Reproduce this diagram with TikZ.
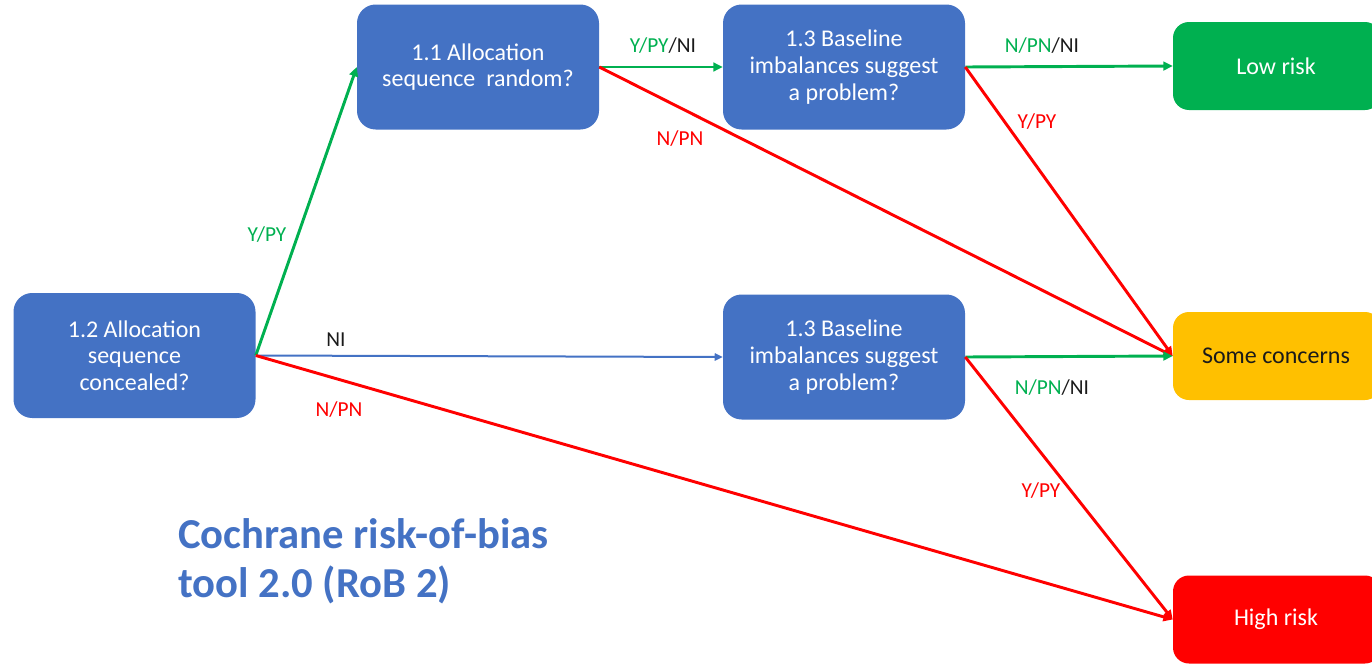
\documentclass[tikz,border=0pt]{standalone}
\usepackage{fontspec}
\setmainfont{Carlito}
\usetikzlibrary{arrows.meta}
\definecolor{qblue}{HTML}{4472C4}
\definecolor{lgreen}{HTML}{00B050}
\definecolor{lorange}{HTML}{FFC000}
\definecolor{lred}{HTML}{FF0000}
\definecolor{lblack}{HTML}{1A1A1A}
\tikzset{
  qbox/.style={fill=qblue, draw=none, rounded corners=14pt, minimum width=181.5pt, minimum height=93.75pt,
    text=white, align=center, font=\fontsize{18}{20}\selectfont, inner sep=0pt},
  obox/.style={draw=none, rounded corners=12pt, minimum width=156pt, minimum height=66pt, inner sep=0pt},
  otext/.style={font=\fontsize{18}{20}\selectfont, inner sep=0pt},
  lab/.style={font=\fontsize{16}{18}\selectfont, inner sep=0pt},
  conn/.style={line width=2.2pt, -{Triangle[length=7pt,width=6.5pt]}},
  ttl/.style={font=\fontsize{32}{36}\bfseries\selectfont, text=qblue, inner sep=0pt, anchor=base west}
}
\begin{document}
\begin{tikzpicture}[x=0.75pt,y=-0.75pt]
\useasboundingbox (0,0) rectangle (1372,664);
\clip (0,0) rectangle (1372,664);
% question nodes
\node[qbox] (n12) at (134.5,355.5) {1.2 Allocation\\sequence\\concealed?};
\node[qbox] (n11) at (478,67) {1.1 Allocation\\sequence~ random?};
\node[qbox] (n13a) at (844,67) {1.3 Baseline\\imbalances suggest\\a problem?};
\node[qbox] (n13b) at (844,357) {1.3 Baseline\\imbalances suggest\\a problem?};
% outcome nodes
\node[obox, fill=lgreen] (low) at (1277,66) {};
\node[obox, fill=lorange] (some) at (1277,356) {};
\node[obox, fill=lred] (high) at (1277,619.5) {};
\node[otext, text=white] (lowt) at (1276,66) {Low risk};
\node[otext, text=lblack] (somet) at (1276,356) {Some concerns};
\node[otext, text=white] (hight) at (1276,619) {High risk};
% connectors
\draw[conn, lgreen] (n12.east) -- (n11.west);
\draw[line width=1.5pt, qblue, -{Triangle[length=6pt,width=5.5pt]}] (n12.east) -- (n13b.west);
\draw[conn, lred] (n12.east) -- (high.west);
\draw[conn, lgreen] (n11.east) -- (n13a.west);
\draw[conn, lred] (n11.east) -- (some.west);
\draw[conn, lgreen] (n13a.east) -- (low.west);
\draw[conn, lred] (n13a.east) -- (some.west);
\draw[conn, lgreen] (n13b.east) -- (some.west);
\draw[conn, lred] (n13b.east) -- (high.west);
% labels
\node[lab, text=lgreen] (l1) at (267,235) {Y/PY};
\node[lab, text=lblack] (l2) at (336,340) {NI};
\node[lab, text=lred] (l3) at (339,410) {N/PN};
\node[lab] (l4) at (663,46) {\textcolor{lgreen}{Y/PY}\textcolor{lblack}{/NI}};
\node[lab, text=lred] (l5) at (680,139) {N/PN};
\node[lab] (l6) at (1042,46) {\textcolor{lgreen}{N/PN}\textcolor{lblack}{/NI}};
\node[lab, text=lred] (l7) at (1037,122) {Y/PY};
\node[lab] (l8) at (1052,388) {\textcolor{lgreen}{N/PN}\textcolor{lblack}{/NI}};
\node[lab, text=lred] (l9) at (1041,491) {Y/PY};
% title
\node[ttl] (t1) at (178,548) {Cochrane risk-of-bias};
\node[ttl] (t2) at (178,597) {tool 2.0 (RoB 2)};
\end{tikzpicture}
\end{document}
